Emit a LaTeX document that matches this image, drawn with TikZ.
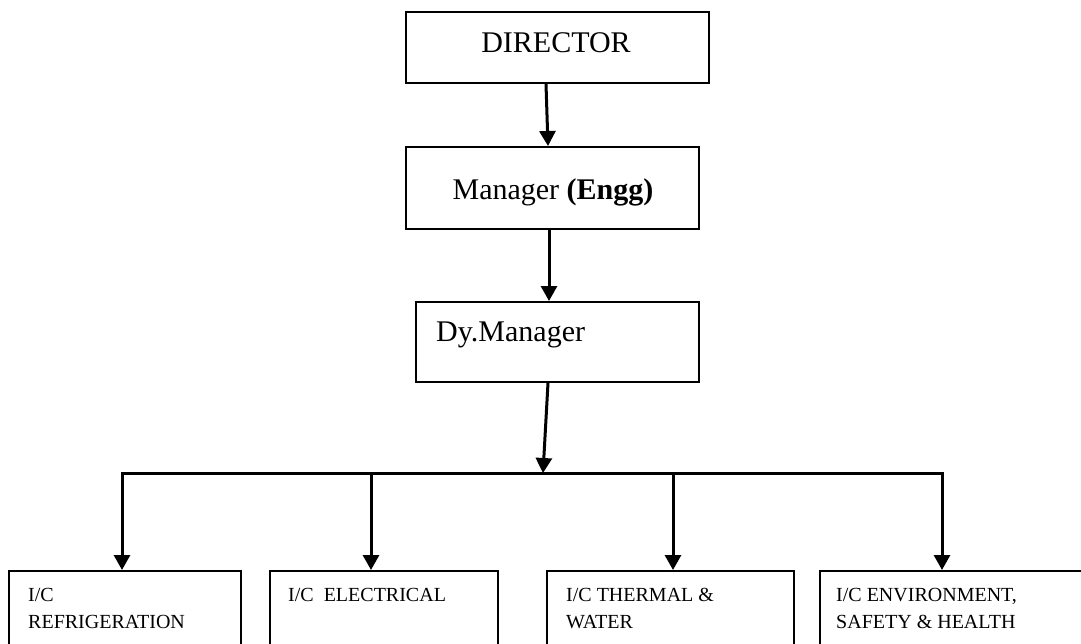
\documentclass[tikz,border=0pt]{standalone}
\usepackage{fontspec}
\setmainfont{Liberation Serif}
\usetikzlibrary{arrows.meta}
\begin{document}
\begin{tikzpicture}[x=1pt,y=-1pt,
  box/.style={draw, line width=2pt, rectangle, inner sep=0pt, anchor=north west},
  conn/.style={line width=3pt, -{Triangle[length=15pt,width=16pt]}},
  conntwo/.style={line width=3pt, {Triangle[length=15pt,width=16pt]}-{Triangle[length=15pt,width=16pt]}},
  big/.style={font=\fontsize{30}{36}\selectfont, inner sep=0pt},
  small/.style={font=\fontsize{20}{27}\selectfont, inner sep=0pt, align=left, anchor=base west}]
\useasboundingbox (0,0) rectangle (1081,643);
\clip (0,0) rectangle (1081,643);
\fill[white] (0,0) rectangle (1081,643);

% top boxes
\node[box, minimum width=303pt, minimum height=71pt] (dir) at (405,11) {};
\node[box, minimum width=293pt, minimum height=82pt] (mgr) at (405,146) {};
\node[box, minimum width=283pt, minimum height=80pt] (dy) at (415,301) {};

\node[big, anchor=base] (dirt) at (556,52) {DIRECTOR};
\node[big, anchor=base] (mgrt) at (553,199) {Manager \textbf{(Engg)}};
\node[big, anchor=base west] (dyt) at (436,341) {Dy.Manager};

% bottom boxes
\node[box, minimum width=232pt, minimum height=100pt] (b1) at (8,570) {};
\node[box, minimum width=228pt, minimum height=100pt] (b2) at (269,570) {};
\node[box, minimum width=247pt, minimum height=100pt] (b3) at (546,570) {};
\node[box, minimum width=300pt, minimum height=100pt] (b4) at (819,570) {};

% multi-line nodes: base anchor is the baseline of the last line
\node[small] (t1) at (28,628) {I/C\\REFRIGERATION};
\node[small] (t2) at (288,601) {I/C\ \ ELECTRICAL};
\node[small] (t3) at (566,628) {I/C THERMAL \&\\WATER};
\node[small] (t4) at (836,628) {I/C ENVIRONMENT,\\SAFETY \& HEALTH};

% bus coordinates
\coordinate (j) at (543,473);
\coordinate (bl) at (122,473);
\coordinate (br) at (942,473);
\coordinate (c2) at (371,473);
\coordinate (c3) at (673,473);

% connectors
\draw[conn] ([xshift=-11.5pt]dir.south) -- ([xshift=-4.5pt]mgr.north);
\draw[conn] ([xshift=-3.5pt]mgr.south) -- ([xshift=-8.5pt]dy.north);
\draw[conn] ([xshift=-9.5pt]dy.south) -- (j);
\draw[conntwo] (bl |- b1.north) -- (bl) -- (br) -- (br |- b4.north);
\draw[conn] (c2) -- (c2 |- b2.north);
\draw[conn] (c3) -- (c3 |- b3.north);
\end{tikzpicture}
\end{document}
